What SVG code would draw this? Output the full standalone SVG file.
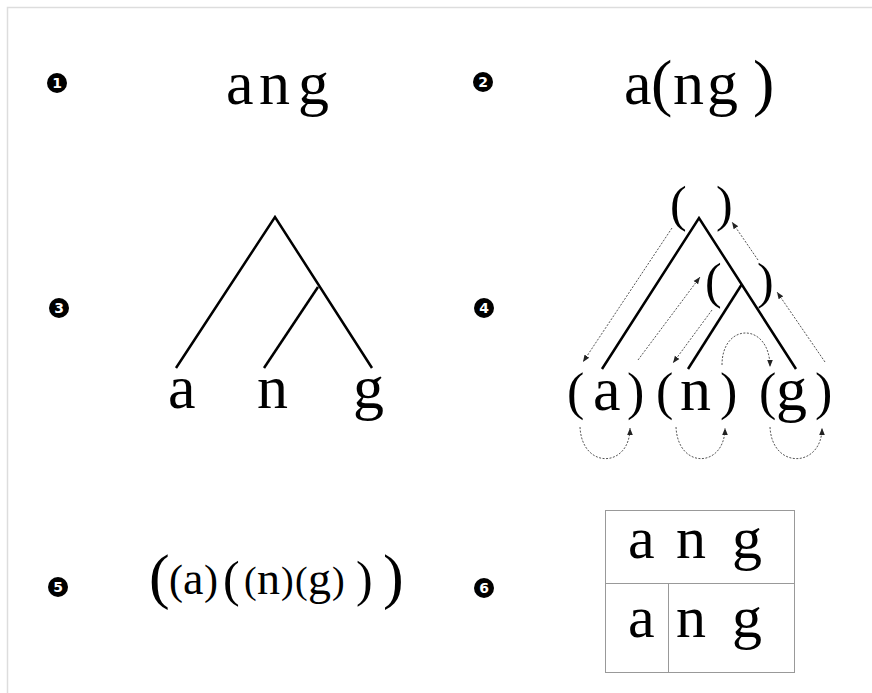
<svg xmlns="http://www.w3.org/2000/svg" width="872" height="693" viewBox="0 0 872 693">
<style>
  .t { font-family: "Liberation Serif", "DejaVu Serif", serif; fill: #000; }
  .num { font-family: "DejaVu Sans", "Liberation Sans", sans-serif; font-weight: bold; font-size: 14px; fill: #fff; text-anchor: middle; }
  .tree { stroke: #000; stroke-width: 2.5; fill: none; stroke-linecap: butt; }
  .dot { stroke: #555; stroke-width: 1; fill: none; stroke-dasharray: 2 1.5; }
  .grid { stroke: #999; stroke-width: 1; fill: none; }
</style>
<defs>
  <marker id="ah" markerWidth="8" markerHeight="8" refX="7" refY="4" orient="auto" markerUnits="userSpaceOnUse">
    <path d="M0,1.2 L7,4 L0,6.8 Z" fill="#222"/>
  </marker>
</defs>
<rect x="0" y="0" width="872" height="693" fill="#fff"/>
<path d="M7.5,693 V7.5 H872" stroke="#ddd" stroke-width="1.5" fill="none"/>

<g id="labels">
  <g id="n1"><circle cx="57" cy="83" r="10" fill="#000"/><text class="num" x="57" y="88">1</text></g>
  <g id="n2"><circle cx="483" cy="82" r="10" fill="#000"/><text class="num" x="483" y="87">2</text></g>
  <g id="n3"><circle cx="59" cy="308" r="10" fill="#000"/><text class="num" x="59" y="313">3</text></g>
  <g id="n4"><circle cx="484" cy="308" r="10" fill="#000"/><text class="num" x="484" y="313">4</text></g>
  <g id="n5"><circle cx="58" cy="587" r="10" fill="#000"/><text class="num" x="58" y="592">5</text></g>
  <g id="n6"><circle cx="484" cy="588" r="10" fill="#000"/><text class="num" x="484" y="593">6</text></g>
</g>

<g id="panel1">
  <text class="t" font-size="62" x="226 259 298" y="104">ang</text>
</g>

<g id="panel2">
  <text class="t" font-size="62" x="624" y="104">a</text>
  <text class="t" font-size="64" x="651" y="104">(</text>
  <text class="t" font-size="62" x="673 707" y="104">ng</text>
  <text class="t" font-size="64" x="753" y="104">)</text>
</g>

<g id="panel3">
  <g id="tree3-edges">
    <path class="tree" d="M176,368 L275,217 L372,368"/>
    <path class="tree" d="M264,368 L318,287"/>
  </g>
  <g id="leaf3-a"><text class="t" font-size="62" x="168" y="408">a</text></g>
  <g id="leaf3-n"><text class="t" font-size="62" x="257" y="408">n</text></g>
  <g id="leaf3-g"><text class="t" font-size="62" x="353" y="408">g</text></g>
</g>

<g id="panel4">
  <g id="tree4-edges">
    <path class="tree" d="M602,369 L699,218 L796,369"/>
    <path class="tree" d="M688,369 L742,284"/>
  </g>
  <g id="root4"><text class="t" font-size="50" x="670 716" y="221">()</text></g>
  <g id="inner4"><text class="t" font-size="50" x="705 757" y="298">()</text></g>
  <g id="leaf4-a"><text class="t" font-size="52" x="567" y="409">(</text><text class="t" font-size="62" x="593" y="410">a</text><text class="t" font-size="52" x="627" y="409">)</text></g>
  <g id="leaf4-n"><text class="t" font-size="52" x="656" y="409">(</text><text class="t" font-size="62" x="680" y="410">n</text><text class="t" font-size="52" x="720" y="409">)</text></g>
  <g id="leaf4-g"><text class="t" font-size="52" x="759" y="409">(</text><text class="t" font-size="62" x="776" y="410">g</text><text class="t" font-size="52" x="815" y="409">)</text></g>
  <g id="traversal">
    <path class="dot" d="M672,228 L583,362" marker-end="url(#ah)"/>
    <path class="dot" d="M638,360 L700,277" marker-end="url(#ah)"/>
    <path class="dot" d="M712,310 L673,363" marker-end="url(#ah)"/>
    <path class="dot" d="M722,365 C722,322 770,322 770,367" marker-end="url(#ah)"/>
    <path class="dot" d="M825,362 L777,292" marker-end="url(#ah)"/>
    <path class="dot" d="M758,260 L732,222" marker-end="url(#ah)"/>
    <path class="dot" d="M580,427 C582,470 630,468 630,428" marker-end="url(#ah)"/>
    <path class="dot" d="M676,427 C678,470 725,468 725,428" marker-end="url(#ah)"/>
    <path class="dot" d="M770,427 C772,470 822,468 822,428" marker-end="url(#ah)"/>
  </g>
</g>

<g id="panel5">
  <text class="t" font-size="62" x="149" y="597">(</text>
  <text class="t" font-size="42" x="169" y="594">(</text>
  <text class="t" font-size="46" x="183" y="594">a</text>
  <text class="t" font-size="42" x="204" y="594">)</text>
  <text class="t" font-size="50" x="223" y="596">(</text>
  <text class="t" font-size="38" x="244" y="593">(</text>
  <text class="t" font-size="46" x="257" y="594">n</text>
  <text class="t" font-size="38" x="281" y="593">)</text>
  <text class="t" font-size="38" x="295" y="593">(</text>
  <text class="t" font-size="46" x="308" y="594">g</text>
  <text class="t" font-size="38" x="332" y="593">)</text>
  <text class="t" font-size="50" x="356" y="596">)</text>
  <text class="t" font-size="62" x="383" y="597">)</text>
</g>

<g id="panel6">
  <rect class="grid" x="605.5" y="510.5" width="189" height="162"/>
  <line class="grid" x1="605.5" y1="583.5" x2="794.5" y2="583.5"/>
  <line class="grid" x1="668.5" y1="583.5" x2="668.5" y2="672.5"/>
  <text class="t" font-size="60" x="628 676 732" y="558">ang</text>
  <text class="t" font-size="60" x="628 676 732" y="637">ang</text>
</g>
</svg>
